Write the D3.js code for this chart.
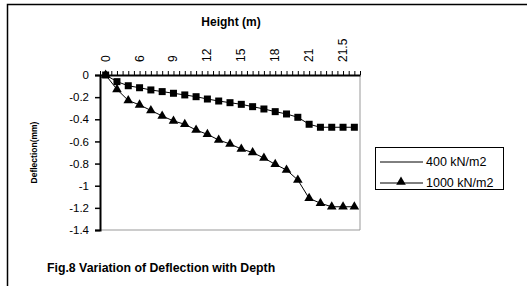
<!DOCTYPE html>
<html>
<head>
<meta charset="utf-8">
<script src="https://cdn.jsdelivr.net/npm/d3@7"></script>
<style>
  body { margin: 0; background: #fff; }
  svg { display: block; font-family: "Liberation Sans", Arial, sans-serif; }
</style>
</head>
<body>
<div id="chart"></div>
<script>
// height categories (only every third one is labelled on the axis)
const heights = ['0', '2', '4', '6', '7', '8', '9', '10', '11', '12', '13', '14',
                 '15', '16', '17', '18', '19', '20', '21', '21.1', '21.3', '21.5', '21.7'];
const labelIdx = [0, 3, 6, 9, 12, 15, 18, 21];

// deflection (mm)
const defl400 = [0, -0.06, -0.097, -0.115, -0.135, -0.15, -0.165, -0.18, -0.196, -0.217,
                 -0.235, -0.25, -0.265, -0.286, -0.307, -0.331, -0.352, -0.382, -0.445,
                 -0.472, -0.472, -0.472, -0.472];
const defl1000 = [0, -0.13, -0.23, -0.27, -0.32, -0.37, -0.415, -0.445, -0.497, -0.536,
                  -0.587, -0.623, -0.668, -0.70, -0.75, -0.807, -0.858, -0.948, -1.114,
                  -1.158, -1.19, -1.19, -1.19];
const yTicks = [0, -0.2, -0.4, -0.6, -0.8, -1, -1.2, -1.4];
const seriesNames = ['400 kN/m2', '1000 kN/m2'];

const initChart = () => {
    const width = 527, height = 286;
    const plot = { left: 100, right: 360, top: 75, bottom: 230 };

    const svg = d3.select('#chart').append('svg')
        .attr('width', width)
        .attr('height', height);

    // outer frame (cut off at right and bottom)
    svg.append('rect')
        .attr('x', 7.5).attr('y', 4.5)
        .attr('width', 600).attr('height', 400)
        .attr('fill', 'none').attr('stroke', '#000').attr('stroke-width', 1.5);

    const x = d3.scaleBand()
        .domain(d3.range(heights.length))
        .range([plot.left, plot.right])
        .padding(0);
    const cx = i => x(i) + x.bandwidth() / 2;

    const y = d3.scaleLinear()
        .domain([-1.4, 0])
        .range([plot.bottom, plot.top]);

    // plot area right / bottom border
    svg.append('path')
        .attr('d', `M${plot.left},${plot.bottom}H${plot.right}V${plot.top}`)
        .attr('fill', 'none').attr('stroke', '#999').attr('stroke-width', 1);

    // y axis
    const yAxis = svg.append('g')
        .attr('transform', `translate(${plot.left},0)`)
        .call(d3.axisLeft(y).tickValues(yTicks).tickSize(5).tickPadding(6)
            .tickFormat(d => String(+d.toFixed(1))));
    yAxis.select('.domain').attr('stroke-width', 2);
    yAxis.selectAll('.tick line').attr('stroke-width', 1.5);
    yAxis.selectAll('text').attr('font-size', 11.5).attr('fill', '#000')
        .attr('font-family', '"Liberation Sans", Arial, sans-serif');

    // top category axis: small ticks every half category
    const xt = d3.scaleLinear().domain([0, heights.length]).range([plot.left, plot.right]);
    const xAxis = svg.append('g')
        .attr('transform', `translate(0,${plot.top})`)
        .call(d3.axisTop(xt).tickValues(d3.range(0, heights.length + 0.5, 0.5))
            .tickSize(4).tickSizeOuter(0).tickFormat(''));
    xAxis.select('.domain').attr('stroke-width', 2);
    xAxis.selectAll('.tick line').attr('stroke-width', 1);

    // rotated category labels
    svg.append('g').selectAll('text')
        .data(labelIdx)
        .join('text')
        .attr('transform', i => `translate(${cx(i) + 4},${plot.top - 13}) rotate(-90)`)
        .attr('font-size', 12)
        .text(i => heights[i]);

    // axis titles
    svg.append('text')
        .attr('x', 231).attr('y', 26)
        .attr('text-anchor', 'middle')
        .attr('font-size', 12).attr('font-weight', 'bold')
        .text('Height (m)');
    svg.append('text')
        .attr('transform', `translate(37,${(plot.top + plot.bottom) / 2}) rotate(-90)`)
        .attr('text-anchor', 'middle')
        .attr('font-size', 8.5).attr('font-weight', 'bold')
        .text('Deflection(mm)');

    const line = d3.line().x((d, i) => cx(i)).y(d => y(d));

    [defl400, defl1000].forEach(vals => {
        svg.append('path')
            .datum(vals)
            .attr('d', line)
            .attr('fill', 'none').attr('stroke', '#000').attr('stroke-width', 1);
    });

    svg.append('g').selectAll('rect')
        .data(defl400)
        .join('rect')
        .attr('x', (d, i) => cx(i) - 3.5)
        .attr('y', d => y(d) - 3.5)
        .attr('width', 7).attr('height', 7)
        .attr('fill', '#000');

    const tri = d3.symbol().type(d3.symbolTriangle).size(40);
    svg.append('g').selectAll('path')
        .data(defl1000)
        .join('path')
        .attr('transform', (d, i) => `translate(${cx(i)},${y(d)})`)
        .attr('d', tri)
        .attr('fill', '#000');

    // legend
    const lg = svg.append('g');
    lg.append('rect')
        .attr('x', 375.5).attr('y', 147.5)
        .attr('width', 128).attr('height', 42)
        .attr('fill', '#fff').attr('stroke', '#000').attr('stroke-width', 1);
    seriesNames.forEach((name, k) => {
        const ly = 162 + k * 21;
        lg.append('line')
            .attr('x1', 380).attr('x2', 423)
            .attr('y1', ly).attr('y2', ly)
            .attr('stroke', '#000').attr('stroke-width', 1);
        if (k === 1) {
            lg.append('path')
                .attr('transform', `translate(401,${ly - 1})`)
                .attr('d', tri).attr('fill', '#000');
        }
        lg.append('text')
            .attr('x', 426).attr('y', ly + 4)
            .attr('font-size', 12.5)
            .text(name);
    });

    // caption
    svg.append('text')
        .attr('x', 47).attr('y', 272)
        .attr('font-size', 12.3).attr('font-weight', 'bold')
        .text('Fig.8 Variation of Deflection with Depth');
};

document.addEventListener('DOMContentLoaded', initChart);
</script>
</body>
</html>
